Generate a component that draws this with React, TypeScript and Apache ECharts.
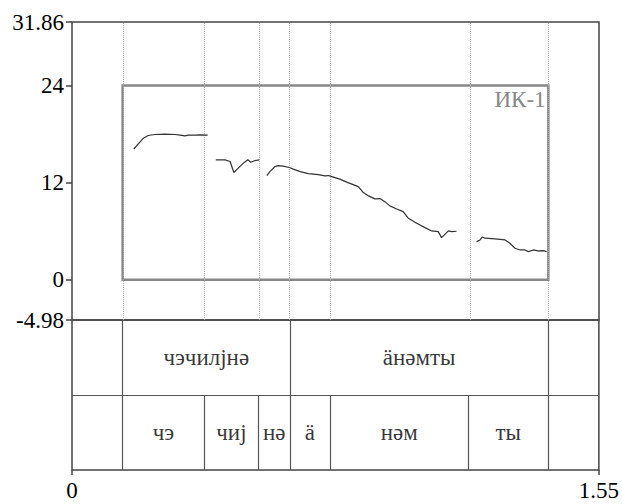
import React, { useEffect, useRef } from "react";
import * as echarts from "echarts";

// ---- Data ----
const timeMin = 0;
const timeMax = 1.55;
const yMin = -4.98;
const yMax = 31.86;
const yTickValues = [-4.98, 0, 12, 24, 31.86];
const xTickValues = [0, 1.55];

const contour1: [number, number][] = [
  [0.182, 16.16], [0.195, 16.8], [0.21, 17.5], [0.224, 17.83], [0.244, 17.95],
  [0.274, 18.0], [0.303, 17.95], [0.318, 17.88], [0.332, 17.79], [0.342, 17.88],
  [0.362, 17.88], [0.376, 17.91], [0.399, 17.88],
];
const contour2: [number, number][] = [
  [0.423, 14.82], [0.45, 14.82], [0.465, 14.61], [0.476, 13.25], [0.489, 13.79],
  [0.504, 14.41], [0.517, 14.82], [0.526, 14.53], [0.538, 14.73], [0.551, 14.82],
];
const contour3: [number, number][] = [
  [0.573, 12.88], [0.582, 13.37], [0.597, 13.99], [0.607, 14.11], [0.621, 14.04],
  [0.639, 13.87], [0.651, 13.67], [0.671, 13.37], [0.695, 13.12], [0.724, 13.0],
  [0.744, 12.84], [0.754, 12.88], [0.764, 12.75], [0.788, 12.43], [0.808, 12.06],
  [0.827, 11.76], [0.842, 11.51], [0.857, 10.77], [0.872, 10.36], [0.891, 9.99],
  [0.906, 10.03], [0.921, 9.62], [0.935, 9.13], [0.955, 8.75], [0.974, 8.42],
  [0.989, 7.6], [1.014, 6.99], [1.038, 6.44], [1.058, 6.03], [1.077, 5.94],
  [1.087, 5.2], [1.107, 6.03], [1.117, 5.94], [1.131, 5.99],
];
const contour4: [number, number][] = [
  [1.19, 4.71], [1.2, 4.92], [1.207, 5.29], [1.215, 5.13], [1.244, 5.04],
  [1.274, 4.92], [1.288, 4.51], [1.303, 3.89], [1.318, 3.68], [1.332, 3.68],
  [1.342, 3.47], [1.357, 3.68], [1.37, 3.56], [1.386, 3.59], [1.396, 3.47],
];

const boxLabel = "ИК-1";
const boxStart = 0.149;
const boxEnd = 1.401;
const boxLow = 0;
const boxHigh = 24;

const wordLabels = ["чэчилјнә", "äнәмты"];
const wordStarts = [0.149, 0.641];
const wordEnds = [0.641, 1.401];

const syllableLabels = ["чэ", "чиј", "нә", "ä", "нәм", "ты"];
const syllableStarts = [0.149, 0.389, 0.549, 0.641, 0.759, 1.166];
const syllableEnds = [0.389, 0.549, 0.641, 0.759, 1.166, 1.401];

// ---- Styles ----
const FONT = "'Liberation Serif', 'Times New Roman', serif";
const FRAME = "#444";

export default function App() {
  const ref = useRef<HTMLDivElement>(null);

  useEffect(() => {
    if (!ref.current) return;
    const chart = echarts.init(ref.current, null, { renderer: "svg" });

    const syllableBounds = Array.from(
      new Set([...syllableStarts, ...syllableEnds])
    ).sort((a, b) => a - b);
    const wordBounds = Array.from(new Set([...wordStarts, ...wordEnds])).sort(
      (a, b) => a - b
    );

    const contours = [contour1, contour2, contour3, contour4];

    const tierLines: any[] = [];
    wordBounds.forEach((t) =>
      tierLines.push([{ coord: [t, 1] }, { coord: [t, 2] }])
    );
    syllableBounds.forEach((t) =>
      tierLines.push([{ coord: [t, 0] }, { coord: [t, 1] }])
    );
    tierLines.push([{ coord: [timeMin, 1] }, { coord: [timeMax, 1] }]);

    const tierText: any[] = [];
    wordLabels.forEach((w, i) =>
      tierText.push({ name: w, value: [(wordStarts[i] + wordEnds[i]) / 2, 1.5] })
    );
    syllableLabels.forEach((s, i) =>
      tierText.push({
        name: s,
        value: [(syllableStarts[i] + syllableEnds[i]) / 2, 0.5],
      })
    );

    const option: any = {
      animation: false,
      textStyle: { fontFamily: FONT },
      grid: [
        {
          left: 72,
          top: 22,
          width: 527,
          height: 298,
          show: true,
          borderColor: FRAME,
          borderWidth: 1.5,
          backgroundColor: "transparent",
        },
        {
          left: 72,
          top: 320,
          width: 527,
          height: 150,
          show: true,
          borderColor: FRAME,
          borderWidth: 1.5,
          backgroundColor: "transparent",
        },
      ],
      xAxis: [
        {
          gridIndex: 0,
          type: "value",
          min: timeMin,
          max: timeMax,
          show: false,
        },
        {
          gridIndex: 1,
          type: "value",
          min: timeMin,
          max: timeMax,
          axisLine: { show: false },
          splitLine: { show: false },
          axisTick: {
            show: true,
            customValues: xTickValues,
            length: 5,
            lineStyle: { color: FRAME, width: 1.5 },
          },
          axisLabel: {
            show: true,
            customValues: xTickValues,
            formatter: (v: number) => String(v),
            color: "#000",
            fontFamily: FONT,
            fontSize: 23,
            margin: 9,
          },
        },
      ],
      yAxis: [
        {
          gridIndex: 0,
          type: "value",
          min: yMin,
          max: yMax,
          axisLine: { show: false },
          splitLine: { show: false },
          axisTick: {
            show: true,
            customValues: yTickValues,
            length: 6,
            lineStyle: { color: FRAME, width: 1.5 },
          },
          axisLabel: {
            show: true,
            customValues: yTickValues,
            formatter: (v: number) => String(v),
            color: "#000",
            fontFamily: FONT,
            fontSize: 23,
            margin: 8,
          },
        },
        {
          gridIndex: 1,
          type: "value",
          min: 0,
          max: 2,
          show: false,
        },
      ],
      series: [
        ...contours.map((c, i) => ({
          type: "line",
          xAxisIndex: 0,
          yAxisIndex: 0,
          data: c,
          showSymbol: false,
          symbol: "none",
          silent: true,
          z: 5,
          lineStyle: { color: "#333", width: 1.2 },
          ...(i === 0
            ? {
                markLine: {
                  silent: true,
                  symbol: ["none", "none"],
                  label: { show: false },
                  lineStyle: { color: "#aaa", width: 1, type: "dotted" },
                  data: syllableBounds.map((t) => ({ xAxis: t })),
                },
                markArea: {
                  silent: true,
                  itemStyle: {
                    color: "rgba(0,0,0,0)",
                    borderColor: "#888",
                    borderWidth: 2.5,
                  },
                  label: {
                    show: true,
                    position: "insideTopRight",
                    distance: 4,
                    color: "#888",
                    fontFamily: FONT,
                    fontSize: 23,
                  },
                  data: [
                    [
                      { name: boxLabel, coord: [boxStart, boxHigh] },
                      { coord: [boxEnd, boxLow] },
                    ],
                  ],
                },
              }
            : {}),
        })),
        {
          type: "scatter",
          xAxisIndex: 1,
          yAxisIndex: 1,
          data: tierText,
          symbolSize: 1,
          silent: true,
          itemStyle: { color: "rgba(0,0,0,0)" },
          label: {
            show: true,
            position: "inside",
            formatter: "{b}",
            color: "#000",
            fontFamily: FONT,
            fontSize: 23,
          },
          markLine: {
            silent: true,
            symbol: ["none", "none"],
            label: { show: false },
            lineStyle: { color: "#555", width: 1.2, type: "solid" },
            data: tierLines,
          },
        },
      ],
    };

    chart.setOption(option);
    return () => chart.dispose();
  }, []);

  return (
    <div
      ref={ref}
      style={{ position: "absolute", left: 0, top: 0, width: 622, height: 504 }}
    />
  );
}
